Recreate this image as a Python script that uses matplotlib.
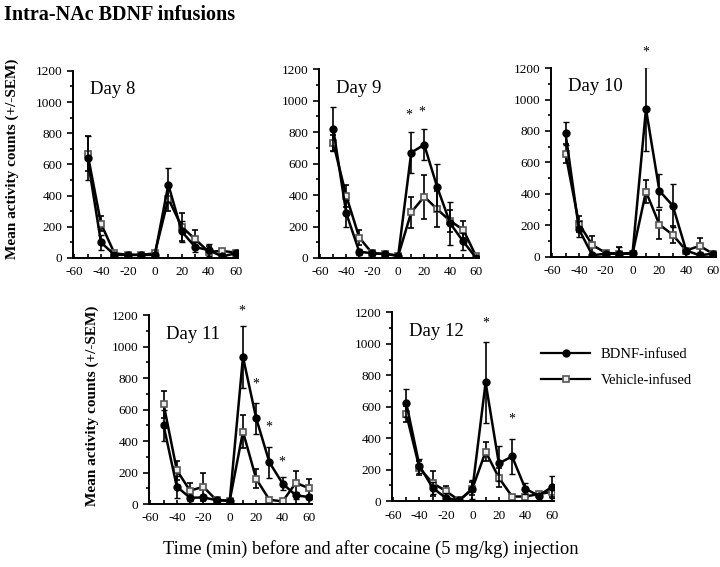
import matplotlib.pyplot as plt
from matplotlib.lines import Line2D
from matplotlib.ticker import MultipleLocator

plt.rcParams['font.family'] = ['Liberation Serif', 'DejaVu Serif']
plt.rcParams['axes.unicode_minus'] = False

times = [-50, -40, -30, -20, -10, 0, 10, 20, 30, 40, 50, 60]

# Day 8
bdnf_d8 = [640, 100, 20, 20, 20, 20, 470, 170, 70, 50, 10, 30]
bdnf_d8_err = [140, 50, 10, 10, 10, 10, 110, 70, 30, 40, 10, 10]
veh_d8 = [670, 220, 30, 20, 20, 30, 380, 200, 120, 40, 45, 35]
veh_d8_err = [110, 50, 15, 10, 10, 10, 80, 90, 60, 40, 15, 10]

# Day 9
bdnf_d9 = [820, 285, 40, 30, 25, 15, 670, 720, 450, 220, 105, 0]
bdnf_d9_err = [140, 85, 20, 10, 10, 10, 130, 100, 150, 135, 55, 5]
veh_d9 = [730, 395, 130, 30, 25, 15, 290, 390, 310, 235, 180, 10]
veh_d9_err = [50, 70, 45, 10, 10, 10, 100, 140, 115, 70, 55, 5]

# Day 10
bdnf_d10 = [785, 175, 10, 20, 20, 25, 940, 420, 325, 40, 10, 20]
bdnf_d10_err = [75, 50, 10, 10, 40, 15, 265, 105, 135, 10, 20, 5]
veh_d10 = [655, 210, 75, 25, 20, 20, 415, 205, 140, 40, 70, 20]
veh_d10_err = [60, 50, 60, 10, 40, 15, 75, 90, 55, 10, 50, 5]

# Day 11
bdnf_d11 = [500, 110, 40, 42, 25, 20, 935, 545, 265, 130, 55, 45]
bdnf_d11_err = [100, 70, 20, 15, 10, 10, 195, 100, 100, 40, 20, 15]
veh_d11 = [635, 215, 85, 110, 25, 22, 460, 160, 27, 17, 135, 100]
veh_d11_err = [85, 60, 50, 90, 10, 10, 105, 60, 10, 10, 75, 60]

# Day 12
bdnf_d12 = [625, 225, 85, 20, 6, 75, 755, 240, 285, 80, 35, 90]
bdnf_d12_err = [90, 45, 40, 30, 5, 60, 255, 110, 110, 35, 10, 70]
veh_d12 = [555, 210, 115, 65, 5, 80, 315, 150, 30, 30, 45, 60]
veh_d12_err = [50, 45, 80, 30, 5, 40, 60, 60, 10, 10, 10, 30]

day_labels = ["Day 8", "Day 9", "Day 10", "Day 11", "Day 12"]

# significance stars (x, y) per panel
stars = [[], [(8, 910), (18, 925)], [(10, 1300)],
         [(9.5, 1225), (20, 765), (29.5, 490), (39.5, 265)],
         [(10, 1130), (30, 525)]]

panels = [(bdnf_d8, bdnf_d8_err, veh_d8, veh_d8_err),
          (bdnf_d9, bdnf_d9_err, veh_d9, veh_d9_err),
          (bdnf_d10, bdnf_d10_err, veh_d10, veh_d10_err),
          (bdnf_d11, bdnf_d11_err, veh_d11, veh_d11_err),
          (bdnf_d12, bdnf_d12_err, veh_d12, veh_d12_err)]

boxes = [[0.101, 0.545, 0.230, 0.330],
         [0.443, 0.545, 0.222, 0.333],
         [0.765, 0.547, 0.229, 0.333],
         [0.207, 0.111, 0.226, 0.333],
         [0.544, 0.116, 0.226, 0.333]]

bdnf_style = dict(color="black", marker="o", ms=5, mfc="black", mec="black")
veh_style = dict(color="black", marker="s", ms=5, mfc="#ececec",
                 mec="#555555", mew=1.2)

fig = plt.figure(figsize=(7.2, 5.67), dpi=100)

for i in range(5):
    ax = fig.add_axes(boxes[i])
    b, be, v, ve = panels[i]
    ax.errorbar(times, b, yerr=be, lw=1.8, elinewidth=1.2, capsize=2.5,
                zorder=3, **bdnf_style)
    ax.errorbar(times, v, yerr=ve, lw=1.8, elinewidth=1.2, capsize=2.5,
                zorder=2, **veh_style)
    ax.set_xlim(-61, 62)
    ax.set_ylim(0, 1200)
    ax.xaxis.set_major_locator(MultipleLocator(20))
    ax.xaxis.set_minor_locator(MultipleLocator(10))
    ax.yaxis.set_major_locator(MultipleLocator(200))
    ax.yaxis.set_minor_locator(MultipleLocator(100))
    ax.tick_params(axis="x", which="both", direction="in", labelsize=9.5,
                   length=3, width=1.2, pad=6)
    ax.tick_params(axis="y", which="major", direction="out", labelsize=9.5,
                   length=4, width=1.2)
    ax.tick_params(axis="y", which="minor", direction="out", length=2.5,
                   width=1.2)
    for s in ["top", "right"]:
        ax.spines[s].set_visible(False)
    for s in ["left", "bottom"]:
        ax.spines[s].set_linewidth(1.4)
    ax.text(-48, 1080, day_labels[i], fontsize=13.5, va="center")
    for sx, sy in stars[i]:
        ax.text(sx, sy, "*", fontsize=10, ha="center", va="center",
                clip_on=False)
    if i == 4:
        handles = [Line2D([], [], lw=1.6, **bdnf_style),
                   Line2D([], [], lw=1.6, **veh_style)]
        ax.legend(handles, ["BDNF-infused", "Vehicle-infused"],
                  loc="upper left", bbox_to_anchor=(0.733, 0.41),
                  bbox_transform=fig.transFigure, frameon=False,
                  fontsize=10.5, handlelength=3.4, labelspacing=0.9,
                  handletextpad=0.7)

fig.text(0.006, 0.973, "Intra-NAc BDNF infusions", fontsize=14.5,
         fontweight="bold", va="center")
fig.text(0.017, 0.72, "Mean activity counts (+/-SEM)", fontsize=11,
         fontweight="bold", rotation=90, ha="center", va="center")
fig.text(0.128, 0.285, "Mean activity counts (+/-SEM)", fontsize=11,
         fontweight="bold", rotation=90, ha="center", va="center")
fig.text(0.515, 0.032,
         "Time (min) before and after cocaine (5 mg/kg) injection",
         fontsize=13.3, ha="center", va="center")

fig.savefig("out.png", dpi=100)
